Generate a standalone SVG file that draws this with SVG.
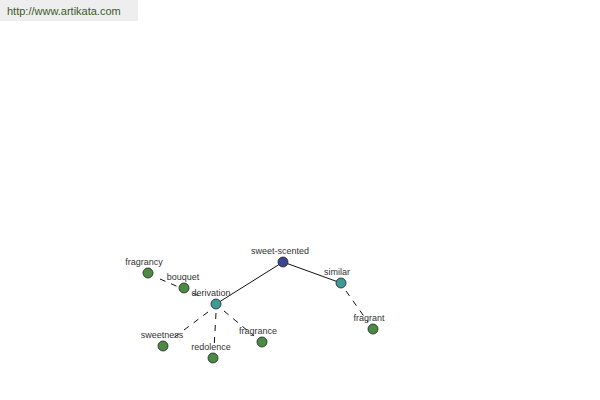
<svg xmlns="http://www.w3.org/2000/svg" width="600" height="400" viewBox="0 0 600 400">
<style>
.lbl{font-family:"Liberation Sans",Arial,sans-serif;font-size:9px;fill:#333;text-anchor:middle}
.n{stroke:#222;stroke-width:0.8}
.g{fill:#4a8a44}
.t{fill:#3d9a94}
.b{fill:#3a4590}
.solid{stroke:#111;stroke-width:1;fill:none}
.dash{stroke:#111;stroke-width:1;fill:none;stroke-dasharray:6 6}
</style>
<rect x="0" y="0" width="138" height="21" fill="#eeeeee"/>
<text x="7" y="15" font-family="Liberation Sans,Arial,sans-serif" font-size="11" fill="#3b5a2a">http://www.artikata.com</text>
<g id="connectors">
<line class="solid" x1="283" y1="262" x2="216" y2="304"/>
<line class="solid" x1="283" y1="262" x2="341" y2="283"/>
<line class="dash" x1="346" y1="291" x2="368" y2="322"/>
<line class="dash" x1="160" y1="279" x2="204" y2="298"/>
<line class="dash" x1="208" y1="312" x2="172" y2="339"/>
<line class="dash" x1="216" y1="313" x2="214" y2="349"/>
<line class="dash" x1="224" y1="311" x2="254" y2="336"/>
</g>
<g id="sweet-scented"><circle class="n b" cx="283" cy="262" r="5"/><text class="lbl" x="280" y="254">sweet-scented</text></g>
<g id="similar"><circle class="n t" cx="341" cy="283" r="5"/><text class="lbl" x="337" y="275">similar</text></g>
<g id="fragrant"><circle class="n g" cx="373" cy="329" r="5"/><text class="lbl" x="369" y="321">fragrant</text></g>
<g id="derivation"><circle class="n t" cx="216" cy="304" r="5"/><text class="lbl" x="211" y="296">derivation</text></g>
<g id="bouquet"><circle class="n g" cx="184" cy="288" r="5"/><text class="lbl" x="183" y="280">bouquet</text></g>
<g id="fragrancy"><circle class="n g" cx="148" cy="273" r="5"/><text class="lbl" x="144" y="265">fragrancy</text></g>
<g id="sweetness"><circle class="n g" cx="163" cy="346" r="5"/><text class="lbl" x="162" y="338">sweetness</text></g>
<g id="redolence"><circle class="n g" cx="213" cy="358" r="5"/><text class="lbl" x="211" y="350">redolence</text></g>
<g id="fragrance"><circle class="n g" cx="262" cy="342" r="5"/><text class="lbl" x="258" y="334">fragrance</text></g>
</svg>
